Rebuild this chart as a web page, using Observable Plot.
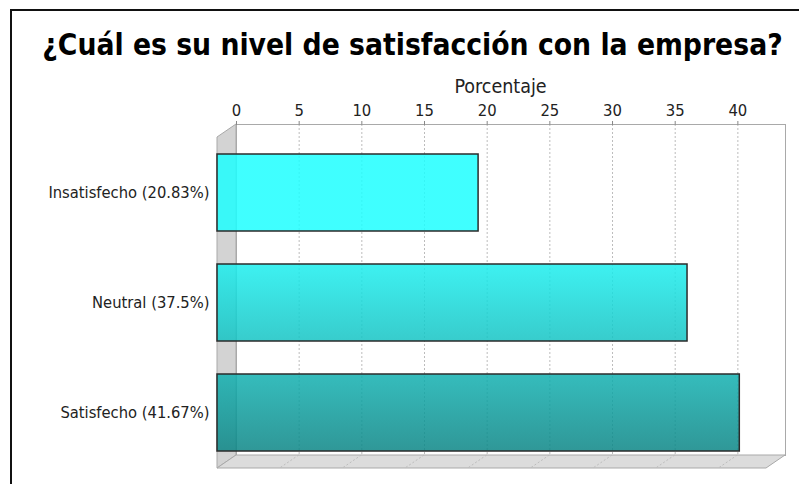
<!DOCTYPE html>
<html>
<head>
<meta charset="utf-8">
<script src="https://cdn.jsdelivr.net/npm/d3@7"></script>
<script src="https://cdn.jsdelivr.net/npm/@observablehq/plot@0.6"></script>
<style>
  html, body { margin: 0; padding: 0; background: #fff; }
  body { width: 799px; height: 484px; overflow: hidden; position: relative;
         font-family: "DejaVu Sans Condensed", "DejaVu Sans", sans-serif; font-stretch: condensed; }
  #frame { position: absolute; left: 10px; top: 9px; width: 900px; height: 600px;
           border-left: 2px solid #111; border-top: 2px solid #111; }
  #chart { position: absolute; left: 0; top: 0; width: 799px; }
  #title { height: 62px; box-sizing: border-box; padding-top: 30px; padding-left: 26px;
           text-align: center; font-weight: bold; font-size: 29.7px; line-height: 29px;
           color: #000; white-space: nowrap; }
</style>
</head>
<body>
<div id="frame"></div>
<div id="chart"><div id="title"></div></div>
<script>
const chartTitle = "¿Cuál es su nivel de satisfacción con la empresa?";
const axisTitle = "Porcentaje";
const categories = ["Insatisfecho", "Neutral", "Satisfecho"];
const percentages = [20.83, 37.5, 41.67];
const xTicks = [0, 5, 10, 15, 20, 25, 30, 35, 40];
const xMax = 43.8;

const data = categories.map((c, i) => ({label: c, value: percentages[i]}));
const labelFor = new Map(categories.map((c, i) => [c, `${c} (${percentages[i]}%)`]));

const DX = 19, DY = 13; // 3D depth offset
const FONT = '"DejaVu Sans Condensed", "DejaVu Sans", sans-serif';

document.getElementById("title").textContent = chartTitle;

function walls(index, scales, values, dims) {
  const g = d3.create("svg:g");
  const x0 = scales.x(0), x1 = dims.width - dims.marginRight;
  const top = dims.marginTop, bottom = dims.height - dims.marginBottom;
  g.append("path")
    .attr("d", `M${x0},${top - DY}L${x0},${bottom - DY}L${x0 - DX},${bottom}L${x0 - DX},${top}Z`)
    .attr("fill", "#d3d3d3").attr("stroke", "#a9a9a9").attr("stroke-width", 1);
  g.append("path")
    .attr("d", `M${x0},${bottom - DY}L${x1},${bottom - DY}L${x1 - DX},${bottom}L${x0 - DX},${bottom}Z`)
    .attr("fill", "#dcdcdc").attr("stroke", "#a9a9a9").attr("stroke-width", 1);
  for (const t of xTicks.slice(1)) {
    const xt = scales.x(t);
    g.append("line")
      .attr("x1", xt).attr("y1", bottom - DY).attr("x2", xt - DX).attr("y2", bottom)
      .attr("stroke", "#bdbdbd").attr("stroke-dasharray", "2,2");
  }
  return g.node();
}

const chart = Plot.plot({
  width: 799,
  height: 422,
  marginLeft: 236,
  marginRight: 14,
  marginTop: 75,
  marginBottom: 16,
  style: {fontFamily: FONT, background: "transparent", overflow: "visible"},
  x: {domain: [0, xMax], axis: null},
  y: {domain: categories, paddingInner: 0.3, paddingOuter: 0.15, axis: null},
  marks: [
    Plot.frame({dy: -DY, fill: "white", stroke: "#a9a9a9"}),
    Plot.gridX(xTicks.slice(1), {dy: -DY, stroke: "#bcbcbc", strokeOpacity: 1, strokeDasharray: "2,2"}),
    walls,
    Plot.barX(data, {x: "value", y: "label", dx: -DX, fill: "url(#barGrad)", fillOpacity: 0.85,
                     stroke: "#2b2b2b", strokeWidth: 1.5}),
    Plot.axisX({anchor: "top", ticks: xTicks, dy: -DY, tickSize: 4, tickPadding: 5,
                fontSize: 16.5, stroke: "#888", fill: "#222", label: null}),
    Plot.axisY({anchor: "left", tickSize: 0, tickPadding: 27, fontSize: 16.4, fill: "#222",
                tickFormat: d => labelFor.get(d), label: null}),
    Plot.text([axisTitle], {frameAnchor: "top", dy: -58, dx: -10.5, fontSize: 19.5, fill: "#222"})
  ]
});

// gradient across the plot (JFreeChart-like GradientPaint)
const ys = chart.scale("y");
const yTop = ys.apply(categories[0]) + ys.bandwidth + 4;
const yBot = ys.apply(categories[categories.length - 1]) + ys.bandwidth;
const defs = d3.create("svg:defs");
const grad = defs.append("linearGradient").attr("id", "barGrad")
  .attr("gradientUnits", "userSpaceOnUse").attr("x1", 0).attr("x2", 0)
  .attr("y1", yTop).attr("y2", yBot);
grad.append("stop").attr("offset", 0).attr("stop-color", "#1effff");
grad.append("stop").attr("offset", 1).attr("stop-color", "#0b8585");
chart.insertBefore(defs.node(), chart.firstChild);

document.getElementById("chart").append(chart);
</script>
</body>
</html>
